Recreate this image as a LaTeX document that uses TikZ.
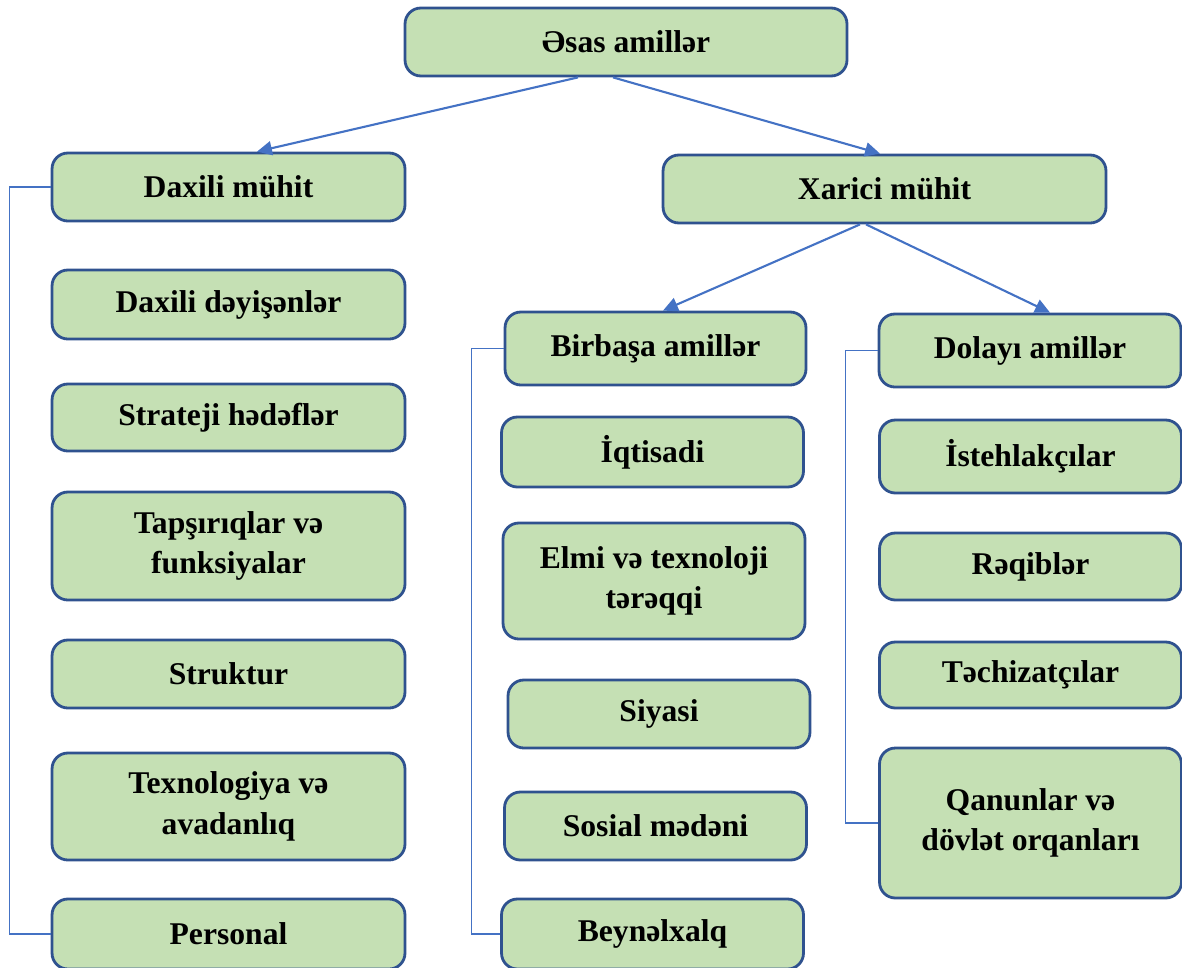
\documentclass[tikz,border=0pt]{standalone}
\usepackage{fontspec}
\setmainfont{Liberation Serif}
\usetikzlibrary{arrows.meta}
\definecolor{boxfill}{HTML}{C5E0B4}
\definecolor{boxline}{HTML}{2F528F}
\definecolor{linkblue}{HTML}{4472C4}
\tikzset{
	box/.style={draw=boxline,fill=boxfill,line width=1.6pt,rounded corners=9pt,
		align=center,inner sep=0pt,font=\bfseries\fontsize{18}{23}\selectfont},
	link/.style={draw=linkblue,line width=1.2pt,-{Triangle[length=8.5pt,width=8pt]}},
	bracket/.style={draw=linkblue,line width=0.7pt}
}
\begin{document}
\begin{tikzpicture}[x=0.02cm,y=-0.02cm]
	\useasboundingbox (0,0) rectangle (1182,967);
	
	\node[box,minimum width=8.84cm,minimum height=1.36cm] (top) at (626,42) {Əsas amillər};
	\node[box,minimum width=7.06cm,minimum height=1.36cm] (dm) at (228.5,187) {Daxili mühit};
	\node[box,minimum width=8.86cm,minimum height=1.36cm] (xm) at (884.5,189) {Xarici mühit};
	\node[box,minimum width=6.02cm,minimum height=1.46cm] (ba) at (655.5,348.5) {Birbaşa amillər};
	\node[box,minimum width=6.04cm,minimum height=1.46cm] (da) at (1030,350.5) {Dolayı amillər};
	
	\foreach \n/\y/\h/\t in {l1/304.5/1.38/{Daxili dəyişənlər},l2/417.5/1.34/{Strateji hədəflər},
		l3/546/2.16/{Tapşırıqlar və\\funksiyalar},l4/674/1.36/{Struktur},
		l5/806.5/2.14/{Texnologiya və\\avadanlıq},l6/934/1.40/{Personal}}
		\node[box,minimum width=7.06cm,minimum height=\h cm] (\n) at (228.5,\y) {\t};
	
	\foreach \n/\x/\y/\h/\t in {m1/652.5/452/1.40/{İqtisadi},m2/654/581/2.32/{Elmi və texnoloji\\tərəqqi},
		m3/659/714/1.36/{Siyasi},m4/655.5/826/1.36/{Sosial mədəni},m5/652.5/934/1.40/{Beynəlxalq}}
		\node[box,minimum width=6.04cm,minimum height=\h cm] (\n) at (\x,\y) {\t};
	
	\foreach \n/\y/\h/\t in {r1/456.5/1.46/{İstehlakçılar},r2/566.5/1.34/{Rəqiblər},
		r3/675/1.32/{Təchizatçılar},r4/823/3.00/{Qanunlar və\\dövlət orqanları}}
		\node[box,minimum width=6.04cm,minimum height=\h cm] (\n) at (1030.5,\y) {\t};
	
	\draw[link] ([xshift=-0.96cm]top.south) -- ([xshift=0.57cm]dm.north);
	\draw[link] ([xshift=-0.26cm]top.south) -- ([xshift=-0.09cm]xm.north);
	\draw[link] ([xshift=-0.49cm]xm.south) -- ([xshift=0.15cm]ba.north);
	\draw[link] ([xshift=-0.37cm]xm.south) -- ([xshift=0.4cm]da.north);
	
	\draw[bracket] (dm.west) -- ++(-0.82cm,0) |- (l6.west);
	\draw[bracket] (ba.west) -- ++(-0.64cm,0) |- (m5.west);
	\draw[bracket] (da.west) -- ++(-0.64cm,0) |- (r4.west);
\end{tikzpicture}
\end{document}
